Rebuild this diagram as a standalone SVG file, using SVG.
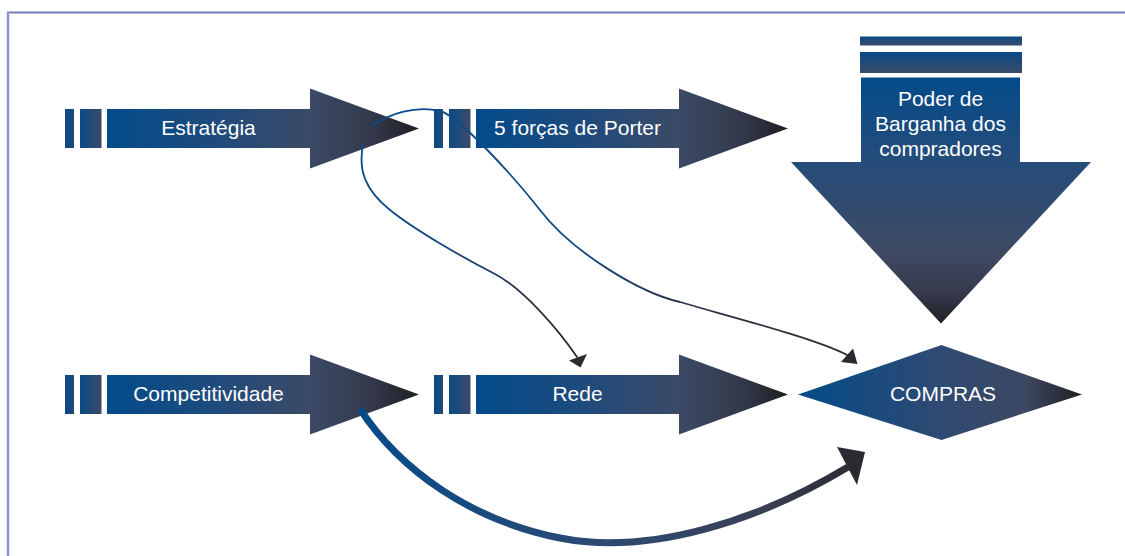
<svg xmlns="http://www.w3.org/2000/svg" width="1125" height="556" viewBox="0 0 1125 556">
  <defs>
    <linearGradient id="gH" x1="0" y1="0" x2="1" y2="0">
      <stop offset="0" stop-color="#034b8a"/>
      <stop offset="0.35" stop-color="#1f4b7c"/>
      <stop offset="0.65" stop-color="#3c4a66"/>
      <stop offset="0.85" stop-color="#33394b"/>
      <stop offset="1" stop-color="#1f1f22"/>
    </linearGradient>
    <linearGradient id="gBar1" x1="0" y1="0" x2="1" y2="0">
      <stop offset="0" stop-color="#0a4a86"/>
      <stop offset="1" stop-color="#1e4a78"/>
    </linearGradient>
    <linearGradient id="gBar2" x1="0" y1="0" x2="1" y2="0">
      <stop offset="0" stop-color="#0a4a86"/>
      <stop offset="1" stop-color="#3c4a68"/>
    </linearGradient>
    <linearGradient id="gVBar" x1="0" y1="0" x2="0" y2="1">
      <stop offset="0" stop-color="#0a4a86"/>
      <stop offset="1" stop-color="#3a4a6a"/>
    </linearGradient>
    <linearGradient id="gV" x1="0" y1="0" x2="0" y2="1">
      <stop offset="0" stop-color="#034b8a"/>
      <stop offset="0.35" stop-color="#264c79"/>
      <stop offset="0.7" stop-color="#3e4a64"/>
      <stop offset="0.88" stop-color="#35394c"/>
      <stop offset="1" stop-color="#1f1f22"/>
    </linearGradient>
    <linearGradient id="gD" x1="0" y1="0" x2="1" y2="0">
      <stop offset="0" stop-color="#034b8a"/>
      <stop offset="0.5" stop-color="#2f4a72"/>
      <stop offset="0.8" stop-color="#3c4862"/>
      <stop offset="1" stop-color="#1f1f22"/>
    </linearGradient>
    <linearGradient id="gA" gradientUnits="userSpaceOnUse" x1="373" y1="0" x2="847" y2="0">
      <stop offset="0" stop-color="#0b4d8c"/>
      <stop offset="0.42" stop-color="#0f4a84"/>
      <stop offset="0.65" stop-color="#2c3448"/>
      <stop offset="1" stop-color="#2a2a30"/>
    </linearGradient>
    <linearGradient id="gB" gradientUnits="userSpaceOnUse" x1="0" y1="145" x2="0" y2="360">
      <stop offset="0" stop-color="#0b4d8c"/>
      <stop offset="0.45" stop-color="#12487f"/>
      <stop offset="0.7" stop-color="#2c3448"/>
      <stop offset="1" stop-color="#2a2a30"/>
    </linearGradient>
    <linearGradient id="gC" gradientUnits="userSpaceOnUse" x1="360" y1="0" x2="860" y2="0">
      <stop offset="0" stop-color="#064b89"/>
      <stop offset="0.5" stop-color="#2e4a72"/>
      <stop offset="0.8" stop-color="#3a3f55"/>
      <stop offset="1" stop-color="#2a2a30"/>
    </linearGradient>
    <style>
      .lbl { font-family: "Liberation Sans", Arial, sans-serif; font-size: 21px; fill: #ffffff; text-anchor: middle; }
      .thin { fill: none; stroke-width: 1.8; stroke-linecap: round; }
      .thick { fill: none; stroke-width: 7; stroke-linecap: butt; }
      .head { fill: #2a2a30; }
    </style>
  </defs>

  <rect x="0" y="0" width="1125" height="556" fill="#ffffff"/>

  <g id="frame">
    <line x1="7" y1="12.5" x2="1125" y2="12.5" stroke="#6e7cbc" stroke-width="2"/>
    <line x1="8" y1="12" x2="8" y2="556" stroke="#8d99c9" stroke-width="2.5"/>
  </g>

  <g id="estrategia">
    <rect x="65" y="109" width="9" height="39" fill="url(#gBar1)"/>
    <rect x="80" y="109" width="21.5" height="39" fill="url(#gBar2)"/>
    <path d="M107,109 H310 V88.5 L419,128.5 L310,168.5 V148 H107 Z" fill="url(#gH)"/>
    <text class="lbl" x="208.5" y="134.5">Estratégia</text>
  </g>

  <g id="porter" transform="translate(369,0)">
    <rect x="65" y="109" width="9" height="39" fill="url(#gBar1)"/>
    <rect x="80" y="109" width="21.5" height="39" fill="url(#gBar2)"/>
    <path d="M107,109 H310 V88.5 L419,128.5 L310,168.5 V148 H107 Z" fill="url(#gH)"/>
    <text class="lbl" x="208.5" y="134.5">5 forças de Porter</text>
  </g>

  <g id="competitividade" transform="translate(0,266)">
    <rect x="65" y="109" width="9" height="39" fill="url(#gBar1)"/>
    <rect x="80" y="109" width="21.5" height="39" fill="url(#gBar2)"/>
    <path d="M107,109 H310 V88.5 L419,128.5 L310,168.5 V148 H107 Z" fill="url(#gH)"/>
    <text class="lbl" x="208.5" y="134.5">Competitividade</text>
  </g>

  <g id="rede" transform="translate(369,266)">
    <rect x="65" y="109" width="9" height="39" fill="url(#gBar1)"/>
    <rect x="80" y="109" width="21.5" height="39" fill="url(#gBar2)"/>
    <path d="M107,109 H310 V88.5 L419,128.5 L310,168.5 V148 H107 Z" fill="url(#gH)"/>
    <text class="lbl" x="208.5" y="134.5">Rede</text>
  </g>

  <g id="poder">
    <rect x="860" y="36.5" width="162" height="9" fill="url(#gVBar)"/>
    <rect x="860" y="52" width="162" height="21" fill="url(#gVBar)"/>
    <path d="M861,77.5 H1020 V162 H1091 L941,323.5 L791,162 H861 Z" fill="url(#gV)"/>
    <text class="lbl" x="940.5" y="106">Poder de</text>
    <text class="lbl" x="940.5" y="131">Barganha dos</text>
    <text class="lbl" x="940.5" y="156">compradores</text>
  </g>

  <g id="compras">
    <path d="M798,394.5 L941.5,345 L1082,394.5 L941.5,440 Z" fill="url(#gD)"/>
    <text class="lbl" x="943" y="401">COMPRAS</text>
  </g>

  <g id="connectors">
    <path class="thin" stroke="url(#gA)" d="M373,125 C390,114 415,105 440,111 C458,115 515,178 540,210 C572,252 640,293 680,302 C720,314 815,338 847,355"/>
    <polygon class="head" points="841,362 853,348.5 857.5,364"/>
    <path class="thin" stroke="url(#gB)" d="M363,145 C358,170 365,190 390,210 C415,230 460,256 495,274 C525,290 560,332 577,357"/>
    <polygon class="head" points="569,360.5 587,354 580.5,367.5"/>
    <path class="thick" stroke="url(#gC)" d="M360,409 C400,470 470,520 560,538 C650,556 760,520 848,467"/>
    <polygon class="head" points="837,447 865,452 857,485"/>
  </g>
</svg>
